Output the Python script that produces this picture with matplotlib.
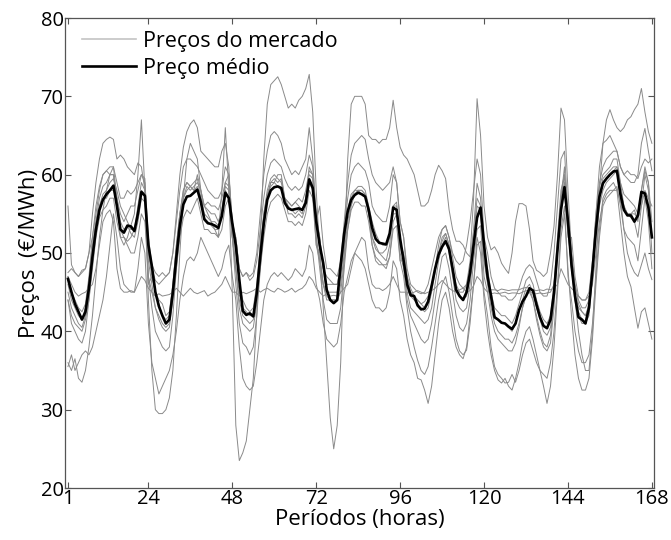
import numpy as np
import matplotlib
matplotlib.use("Agg")
import matplotlib.pyplot as plt

# Preços horários (EUR/MWh) de uma semana: 10 séries de mercado e o preço médio
horas = np.arange(1, 169)

preco_medio = [
    46.7, 45.0, 43.5, 42.5, 41.5, 42.5, 45.5, 49.5, 53.0, 55.5, 56.8, 57.5, 58.0, 58.6, 56.0, 53.0, 52.6, 53.5, 53.4, 52.8, 55.0, 57.8, 57.3, 51.0,
    48.3, 45.0, 43.2, 42.0, 41.0, 41.5, 45.0, 49.5, 53.5, 56.2, 57.2, 57.3, 57.7, 58.1, 56.5, 54.3, 53.8, 53.7, 53.5, 53.2, 54.7, 57.7, 57.0, 53.8,
    51.0, 46.6, 42.6, 42.1, 42.3, 41.9, 44.9, 49.6, 53.8, 56.8, 58.0, 58.4, 58.5, 58.3, 56.4, 55.7, 55.5, 55.6, 55.7, 55.5, 56.4, 59.4, 58.3, 54.0,
    51.0, 48.7, 45.3, 44.0, 43.6, 44.0, 48.5, 52.5, 55.3, 56.8, 57.4, 57.7, 57.5, 57.2, 55.5, 53.2, 51.8, 51.3, 51.2, 51.1, 52.5, 55.8, 55.5, 51.8,
    49.0, 46.0, 44.6, 44.5, 43.3, 42.8, 42.9, 43.8, 45.8, 48.0, 49.8, 50.8, 51.5, 50.5, 48.0, 45.3, 44.5, 44.0, 45.0, 47.5, 51.0, 54.5, 55.8, 51.0,
    47.0, 44.5, 41.8, 41.5, 41.1, 41.0, 40.6, 40.3, 41.0, 42.7, 43.8, 44.5, 45.5, 45.2, 43.4, 41.8, 40.7, 40.4, 41.5, 44.9, 50.4, 55.5, 58.4, 54.0,
    48.5, 44.5, 41.8, 41.5, 41.0, 43.0, 47.8, 53.0, 57.2, 58.9, 59.5, 60.0, 60.4, 60.5, 57.5, 55.5, 54.8, 54.8, 54.0, 54.8, 57.8, 57.6, 55.8, 52.0,
]

mercado_01 = [
    36, 35, 36.5, 34, 33.5, 35, 38, 42, 47, 52, 55.5, 58, 60, 61, 57, 52, 51, 52, 53.5, 55, 60, 67, 58, 44,
    35, 30, 29.5, 29.5, 30, 31.5, 35, 42, 50, 57, 62, 64, 63, 62, 58, 56, 55, 54, 53, 52, 58, 66, 58, 45,
    28, 23.5, 24.5, 26, 30, 34, 42, 52, 62, 69, 71.5, 72, 72.5, 71.5, 70, 68.5, 69, 68.5, 69.5, 70, 71, 72.8, 68, 58,
    50, 43, 36, 29, 25, 28, 36, 50, 62, 69, 70, 70, 70, 69, 65, 64.5, 64.5, 64, 64.5, 64.5, 66, 69.5, 66, 63.5,
    62.5, 62, 61, 60, 58, 56, 56, 56.5, 58, 60, 61.2, 60.5, 59.5, 55.5, 53, 51.5, 51.5, 51, 50, 49.5, 57, 69.7, 65, 56,
    52, 50.4, 50.8, 50, 48.7, 48, 47.4, 50, 54, 56.3, 56.3, 56, 53, 49, 47.8, 47.5, 47, 47.5, 50, 53.4, 60, 68.5, 67, 58,
    50, 44, 40, 37, 35, 35, 40, 48, 58, 64, 67, 68.3, 67, 66, 65.5, 66, 67, 67.4, 68.3, 69, 71, 68, 65.5, 64,
]
mercado_02 = [
    56, 48.5, 47.5, 47, 47.5, 48, 50, 55, 59, 62, 64, 64.5, 64.8, 64.5, 62, 62.5, 62, 61, 60.5, 60, 61.5, 61, 58, 50,
    48, 46.5, 46, 46.5, 47, 47.5, 50, 55, 60, 63.5, 65.5, 66.5, 67, 66, 63, 62.5, 62, 61.5, 61, 61, 63, 64, 61, 52,
    52, 48, 47, 47.5, 47, 47.5, 50, 55, 60, 63, 65, 65.5, 65, 64, 62, 61, 60, 60.5, 60, 61, 62, 66, 62, 54,
    56, 51, 48, 48, 47.5, 47, 49, 54, 59, 62.5, 64, 64.5, 65, 64.5, 62, 60, 59, 58.5, 58, 58.5, 59, 61, 59, 54,
    52, 48, 46, 45.5, 45, 44.8, 45, 46, 48, 50, 52, 53, 53.5, 52, 50, 49, 48.5, 49, 51, 54, 58, 62, 60, 52,
    50, 47, 45.5, 45, 44.5, 44.5, 44, 44, 44.5, 45.5, 47, 48, 48.5, 48, 46.5, 45, 44.5, 44.5, 46, 50, 56, 62, 63, 55,
    50, 46, 44, 43, 43, 44, 48, 55, 61, 64, 64.4, 65, 64, 63, 61, 60, 59.5, 59, 59, 60, 64, 65.9, 63, 60.5,
]
mercado_03 = [
    47, 46, 45, 44.5, 44.8, 45, 45.5, 46, 48, 51, 54, 55, 55.5, 54, 48, 45.5, 45, 45, 45.2, 45, 46, 47, 46.5, 45.5,
    45, 44.5, 44.8, 44.5, 44.6, 44.7, 45, 45.5, 45, 44.5, 45, 45.5, 45, 44.8, 45, 45.2, 44.5, 44.8, 45, 45.5, 46, 47, 46, 45,
    45, 44.5, 45, 44.8, 45, 45.2, 45.5, 45, 45.3, 45.5, 45.2, 45, 45.5, 45.3, 45, 45.2, 45.5, 45, 45.3, 45.5, 46, 47, 46.5, 45.5,
    45, 44.5, 44.8, 44.5, 44.6, 44.5, 45, 45.5, 46, 48, 50, 51, 52, 51.5, 48, 46, 45.5, 45.5, 45.2, 45.5, 46, 47, 46, 45,
    45, 45, 44.8, 45, 45.2, 45, 44.8, 45, 45.2, 45.5, 46, 46.5, 46, 45.5, 45.2, 45, 45.3, 45.5, 45, 45.2, 45.8, 47, 46.5, 45.5,
    45, 45.3, 45.3, 45.2, 45.4, 45.3, 45.2, 45.3, 45.3, 45.3, 45.5, 45.6, 45.5, 45.3, 45.2, 45.3, 45.2, 45.4, 45.3, 45.5, 46, 48, 47, 46,
    45.5, 45, 44.5, 44, 44, 44.5, 46, 50, 54, 56.5, 57.5, 58, 58, 58, 56.5, 55.5, 55, 55, 55, 54.5, 56, 58, 57, 56,
]
mercado_04 = [
    47.5, 48, 47.5, 47, 47.8, 48, 50, 52, 55, 58, 60, 60.5, 61, 61, 59, 57, 57, 58, 57.5, 58, 59, 60, 59, 52,
    48.5, 47.5, 47, 47.5, 47, 47.5, 50, 54, 58, 61, 62, 62, 61.5, 61, 60, 59, 58, 57.5, 57, 57, 58, 61, 60, 54,
    52, 48, 47, 47.5, 46.5, 47, 49, 53, 57, 60, 61.5, 62, 61.5, 61, 59.5, 58.5, 58, 58.5, 58, 58.5, 60, 62.5, 61, 55,
    52, 48, 47, 46.5, 46, 46, 48.5, 53, 57, 60, 61, 61.5, 61, 60.5, 59, 56, 55, 54.5, 54, 54, 56, 60, 59, 54,
    52, 47, 45, 44.5, 44, 43.5, 43.8, 44.5, 46, 48, 50, 52, 52.5, 51, 48, 46, 45, 45, 46, 48, 52, 57, 56, 50,
    47, 44.8, 44.9, 44.8, 44.9, 45, 44.8, 44.9, 44.9, 44.8, 45, 45.2, 45.1, 44.9, 44.8, 44.9, 44.8, 44.9, 45, 46, 50, 56, 58, 52,
    52, 47, 44.5, 44, 44, 45, 49, 55, 59, 61, 62, 62.5, 63, 63, 61, 60, 60.5, 60, 60, 59.5, 61, 62, 61.5, 62,
]
mercado_05 = [
    45, 43, 42, 41, 40.5, 42, 45, 50, 54, 57, 58.5, 59, 60, 60, 56, 53, 52, 51.5, 52, 53, 55, 58, 57.5, 49,
    46, 43, 42, 41, 40.5, 41, 45, 50, 55, 58, 59, 58.5, 59, 59.5, 57, 55, 54.5, 54, 54, 53.5, 55, 58.5, 58, 53,
    48, 44, 42, 41.5, 41, 41.5, 44, 49, 54, 57.5, 59, 59.5, 59, 59.5, 57, 56, 55.5, 55, 55.5, 55, 57, 60, 59.5, 52,
    49, 46, 44.5, 44, 44, 44, 46, 50, 54, 56.5, 57.5, 58, 58, 57.5, 55, 52, 51, 50, 50, 50.5, 52, 56, 56, 51,
    49, 45, 43, 42.5, 42, 41.5, 41, 41.5, 43, 46, 49, 51, 52, 50, 47, 44, 43, 42.5, 43, 46, 50, 55, 55, 49,
    46, 43, 41, 40, 39.5, 39, 39, 38.5, 39.5, 41, 43, 44.5, 45, 44, 42, 40, 38.5, 38, 39.5, 44, 51, 57, 60, 53,
    48, 44, 42, 41, 41, 42, 47, 53, 57.5, 59.5, 60, 60.5, 61, 61, 58, 56, 55, 54.5, 54, 52, 56, 60, 58, 50,
]
mercado_06 = [
    44, 41, 40, 39, 38.5, 40, 44, 49, 53, 56, 57.5, 58, 59, 59.5, 58, 56, 55, 54, 53, 53, 56, 59, 58, 47,
    43, 40, 39, 38, 37.5, 38, 42, 48, 53, 57, 58.5, 58, 58.5, 59, 58, 56, 55.5, 55, 55, 54, 55.5, 59, 58.5, 52,
    46, 41, 38.5, 38, 37, 38, 42, 48, 53, 57, 59, 59, 60, 60, 57, 56.5, 56, 56.5, 56, 55.5, 57, 61, 60, 52,
    48, 44, 41.5, 41, 41, 41, 43, 48, 53, 56, 57.5, 58, 58, 57.5, 55, 52, 50.5, 50, 49.5, 49, 51, 56, 56.5, 50,
    48, 44, 42, 41, 40, 39, 38.5, 39, 41, 44, 47, 49.5, 50, 48, 45, 42, 40.5, 40, 41, 44, 49, 53, 53.5, 47,
    45, 42, 40, 39, 38.5, 38, 37.5, 37.5, 38.5, 40.5, 43, 44.5, 45.5, 44, 41.5, 39.5, 38, 37.5, 38.5, 43, 50, 57, 61, 53,
    48, 44.5, 42.5, 41.5, 41, 42.5, 47, 52, 56, 58, 59, 59.5, 60, 60.5, 57, 53, 52, 51.5, 51, 49, 53, 57, 54, 48,
]
mercado_07 = [
    47, 45, 44, 43, 42.5, 43.5, 47, 52, 56, 58.5, 60, 60.5, 60, 60, 57, 54, 53, 53.5, 52.5, 52, 54, 57, 56.5, 46,
    47, 45, 44, 43.5, 42, 42.5, 46, 51, 55, 58, 59, 58.5, 58, 60, 58, 54.5, 54, 53.5, 53, 53, 55, 58, 57, 52,
    48, 45, 43, 42.5, 42, 42, 45, 50, 55, 58, 59.5, 60, 59.5, 59, 57, 55, 55, 54.5, 55, 54.5, 56, 59, 58, 51,
    49, 46, 45, 45, 45, 45, 47, 51, 55, 57, 58, 58, 57.5, 57.5, 55, 51, 49, 48.5, 48.5, 48, 49.5, 54, 55, 49,
    49, 46, 44.5, 44, 43.5, 43, 42.5, 43, 45, 47.5, 50, 51.5, 52.5, 51, 48, 45.5, 44.5, 44, 44.5, 47, 51, 56, 55.5, 49,
    47, 44, 42, 41.5, 41, 41, 40.5, 40, 41, 42.5, 44, 45.5, 46, 45, 43, 41.5, 40, 39.5, 40.5, 44, 51, 57, 59, 54,
    49, 45, 43, 42.5, 42, 43, 47.5, 53, 57.5, 59, 59.5, 60, 60.5, 61, 59, 57.5, 57, 56.5, 56, 55, 58, 60.5, 59, 52,
]
mercado_08 = [
    35.5, 37, 35, 36, 37, 37.5, 37, 38, 40, 42, 44, 47, 51, 55, 52, 48, 46, 45.5, 45, 45, 48, 52, 50, 41,
    36, 34, 32, 33, 34, 35, 37, 40, 44, 47, 49, 49.5, 49, 50, 52, 51, 50, 49, 48, 47, 48, 50, 51, 47,
    44, 38, 34, 33, 32.5, 33, 36, 40, 44, 46, 47, 47.5, 47, 47.5, 47, 46.5, 47, 48, 47.5, 47, 48, 51, 50, 46,
    44, 41, 39, 38.5, 38, 38.5, 41, 45, 47, 49, 50, 49.5, 49, 48, 46, 44, 43, 43, 42.5, 43, 45, 49, 48, 44,
    42, 39, 37, 36, 34, 33.8, 32.5, 30.8, 33, 37, 41, 44, 45, 43, 40, 38, 37, 36.5, 38, 42, 46, 52, 50, 44,
    40, 37, 35, 33.8, 33.4, 34, 33, 32.5, 34, 36, 38.5, 40, 40.6, 39, 37, 35, 33, 30.8, 33, 38, 45, 52, 55, 48,
    42, 37, 34, 32.5, 32.5, 34, 39, 46, 52, 56, 57, 57.5, 58, 58.5, 56, 53, 50, 48.5, 47.5, 47, 48.5, 50, 48, 46.6,
]
mercado_09 = [
    46, 44, 43, 42, 41.5, 43, 46.5, 51, 54, 56, 57, 57, 58, 58, 57, 55, 54, 55, 56, 56, 58, 60, 59.5, 50,
    47, 45, 43.5, 42, 41.5, 42, 46, 51, 55, 57, 58, 58.5, 58, 58.5, 57, 56, 56.5, 56, 56, 55.5, 57, 59, 60, 54,
    50, 46, 44, 43, 42.5, 43, 46, 51, 55, 57.5, 58.5, 59, 58.5, 58, 57, 56.5, 56, 56.5, 57, 56.5, 58, 60.5, 60, 54,
    52, 48, 46, 46, 46, 46, 48, 52, 55.5, 57.5, 58, 58.5, 58.5, 58, 56, 54, 52.5, 51.5, 51, 51, 52, 55, 55, 51,
    50, 47, 45.5, 44.5, 44, 43.5, 43, 43.5, 45.5, 48, 51, 53, 53.5, 52, 49.5, 47, 46, 45.5, 46, 49, 53, 58.9, 57, 50,
    48, 45, 43, 42.5, 42, 42, 41.5, 41, 42, 43.5, 45, 46.5, 47, 46, 44, 42.5, 41.5, 41, 42, 46, 52, 58, 60, 54,
    50, 46, 43.5, 42.5, 42, 43.5, 48, 54, 58.5, 60, 60.5, 61, 62, 62, 59, 56, 55, 55, 55.5, 54, 58, 61, 59, 54,
]
mercado_10 = [
    44, 42, 41, 40.5, 40, 41.5, 44, 48, 52, 54.5, 55.5, 56, 57, 57, 54, 52, 52, 51, 50, 50, 52, 55, 54, 47,
    45, 43, 41.5, 40.5, 40, 40.5, 44, 48, 52, 54.5, 55.5, 55, 56, 57, 55, 53, 53, 52.5, 52.5, 52, 53, 56, 57, 52,
    48, 43, 41, 40.5, 40, 40.5, 43.5, 48, 52, 55, 56.5, 57, 57.5, 57, 55.5, 54, 54, 53.5, 54, 53.5, 55, 58, 57, 51,
    50, 46, 44, 44, 44, 44, 45, 49, 53, 55.5, 56.5, 56.5, 56, 56, 54, 51, 49.5, 49, 48.5, 48.5, 49.5, 53, 53.5, 49,
    47, 43, 40, 38, 36.3, 35, 34.5, 35.5, 38, 41, 44, 46, 47, 45, 42, 39, 37.5, 37, 37.6, 41, 46, 51, 51.5, 45,
    42, 38, 35.5, 34.5, 34, 33.4, 33.5, 34.5, 33.5, 35, 37, 38.5, 39, 37.5, 36, 35, 34.5, 34, 36, 40, 46, 53, 56, 47,
    44, 40, 37.5, 36, 36, 37, 41, 47, 53, 57, 58, 58.5, 59, 58, 54, 50, 47, 45.7, 43, 40.4, 42.5, 43, 41, 39,
]

series_mercado = [mercado_01, mercado_02, mercado_03, mercado_04, mercado_05,
                  mercado_06, mercado_07, mercado_08, mercado_09, mercado_10]
for s in series_mercado + [preco_medio]:
    assert len(s) == len(horas), len(s)

xticks = [1, 24, 48, 72, 96, 120, 144, 168]
yticks = [20, 30, 40, 50, 60, 70, 80]

plt.rcParams["font.family"] = ["Open Sans", "DejaVu Sans"]

fig = plt.figure(figsize=(6.71, 5.40), dpi=100)
ax = fig.add_axes([65 / 671, 1 - 488 / 540, (654 - 65) / 671, (488 - 18) / 540])

for i, s in enumerate(series_mercado):
    ax.plot(horas, s, color="#8a8a8a", linewidth=0.7,
            label="Preços do mercado" if i == 0 else None)
ax.plot(horas, preco_medio, color="black", linewidth=1.9, label="Preço médio")

ax.set_xlim(0.15, 168.6)
ax.set_ylim(20, 80)
ax.set_xticks(xticks)
ax.set_yticks(yticks)
ax.tick_params(direction="in", length=4, width=0.8, color="#555555",
               top=True, right=True, labelsize=14.5, pad=1)
for sp in ax.spines.values():
    sp.set_color("#555555")
    sp.set_linewidth(0.9)

ax.set_xlabel("Períodos (horas)", fontsize=16, labelpad=0)
ax.set_ylabel("Preços  (€/MWh)", fontsize=16, labelpad=0)

leg = ax.legend(loc="upper left", bbox_to_anchor=(0.0, 1.01), frameon=False,
                fontsize=15.5, handlelength=2.5, handletextpad=0.32,
                labelspacing=0.3, borderaxespad=0.4)
leg.get_lines()[0].set_color("#c4c4c4")
leg.get_lines()[0].set_linewidth(1.2)

fig.savefig("out.png", dpi=100)
